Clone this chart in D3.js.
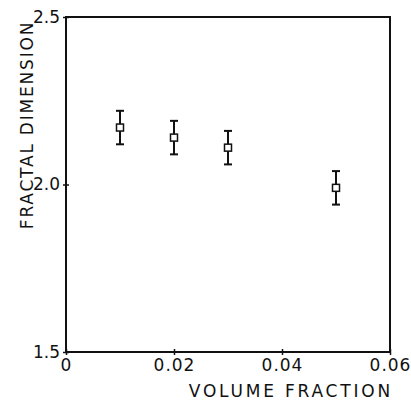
<!DOCTYPE html>
<html><head><meta charset="utf-8">
<script src="https://cdn.jsdelivr.net/npm/d3@7"></script>
<style>body{margin:0;background:#fff}text{font-family:"DejaVu Sans",sans-serif;fill:#111}</style>
</head><body><svg id="c" width="411" height="400"></svg>
<script>
const volumeFraction = [0.01, 0.02, 0.03, 0.05];
const fractalDim = [2.17, 2.14, 2.11, 1.99];
const errHalf = [0.05, 0.05, 0.05, 0.05];
const xTicks = [0, 0.02, 0.04, 0.06];
const xTickLabels = ["0", "0.02", "0.04", "0.06"];
const yTicks = [1.5, 2.0, 2.5];
const yTickLabels = ["1.5", "2.0", "2.5"];

const svg = d3.select("#c");
const L = 66, R = 390, T = 17, B = 352;
const x = d3.scaleLinear().domain([0, 0.06]).range([L, R]);
const y = d3.scaleLinear().domain([1.5, 2.5]).range([B, T]);
const ink = "#111";

// frame
svg.append("rect").attr("x", L).attr("y", T).attr("width", R - L).attr("height", B - T)
  .attr("fill", "none").attr("stroke", ink).attr("stroke-width", 2);

// x axis
const xa = svg.append("g").attr("transform", `translate(0,${B})`)
  .call(d3.axisBottom(x).tickValues(xTicks).tickSize(3).tickPadding(2)
    .tickFormat((d, i) => xTickLabels[i]));
xa.select(".domain").remove();
xa.selectAll(".tick line").attr("stroke", ink).attr("stroke-width", 1.5).attr("y1", -3).attr("y2", 3);
xa.selectAll(".tick text").attr("font-size", 17).attr("letter-spacing", 1).attr("dy", "0.8em")
  .style("font-family", "DejaVu Sans");

// y axis
const ya = svg.append("g").attr("transform", `translate(${L},0)`)
  .call(d3.axisLeft(y).tickValues(yTicks).tickSize(3).tickPadding(3)
    .tickFormat((d, i) => yTickLabels[i]));
ya.select(".domain").remove();
ya.selectAll(".tick line").attr("stroke", ink).attr("stroke-width", 1.5).attr("x1", -3).attr("x2", 3);
ya.selectAll(".tick text").attr("font-size", 17).style("font-family", "DejaVu Sans");

// axis titles
svg.append("text").attr("x", 393).attr("y", 397).attr("text-anchor", "end")
  .attr("font-size", 17).attr("letter-spacing", 2.8).text("VOLUME FRACTION");
svg.append("text").attr("transform", "translate(33,125) rotate(-90)").attr("text-anchor", "middle")
  .attr("font-size", 17).attr("letter-spacing", 1.8).text("FRACTAL DIMENSION");

// error bars
const pts = volumeFraction.map((v, i) => ({x: v, y: fractalDim[i], e: errHalf[i]}));
const g = svg.append("g");
pts.forEach(p => {
  const cx = x(p.x);
  g.append("line").attr("x1", cx).attr("x2", cx).attr("y1", y(p.y + p.e)).attr("y2", y(p.y - p.e))
    .attr("stroke", ink).attr("stroke-width", 2);
  [p.y + p.e, p.y - p.e].forEach(v => {
    g.append("line").attr("x1", cx - 4).attr("x2", cx + 4).attr("y1", y(v)).attr("y2", y(v))
      .attr("stroke", ink).attr("stroke-width", 2);
  });
  g.append("rect").attr("x", cx - 3.5).attr("y", y(p.y) - 3.5).attr("width", 7).attr("height", 7)
    .attr("fill", "#fff").attr("stroke", ink).attr("stroke-width", 1.5);
});
</script></body></html>
